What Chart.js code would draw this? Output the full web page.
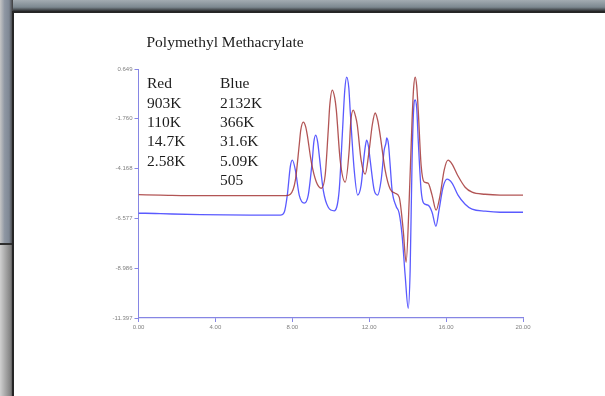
<!DOCTYPE html>
<html>
<head>
<meta charset="utf-8">
<script src="https://cdn.jsdelivr.net/npm/chart.js@4/dist/chart.umd.min.js"></script>
<style>
  html, body { margin: 0; padding: 0; }
  body { width: 605px; height: 396px; position: relative; overflow: hidden; background: #8a8f95; }
  #topStrip { position: absolute; left: 0; top: 0; width: 605px; height: 13px;
    background: linear-gradient(to bottom, #a3acb2 0, #7c8890 55%, #3a3d40 80%, #1e1e1e 100%); }
  #leftUpper { position: absolute; left: 0; top: 0; width: 13px; height: 243px;
    background: linear-gradient(to right, #c6c6c6 0, #8f97a3 35%, #7f8895 70%, #3c3c3c 100%); }
  #leftLine { position: absolute; left: 0; top: 243px; width: 13px; height: 2px; background: #2e2e2e; }
  #leftLower { position: absolute; left: 0; top: 245px; width: 13px; height: 151px;
    background: linear-gradient(to right, #d0d0d0 0, #a9a9a9 40%, #838383 80%, #4a4a4a 100%); }
  #panel { position: absolute; left: 12px; top: 11px; right: 0; bottom: 0; background: #fff;
    border-left: 2px solid #262626; border-top: 2px solid #262626; }
  #gpcChart { position: absolute; left: 0; top: 0; }
  .txt { position: absolute; font-family: "Liberation Serif", "Times New Roman", serif;
    font-size: 15.5px; line-height: 19.3px; color: #1c1c1c; white-space: nowrap; }
</style>
</head>
<body>
<div id="topStrip"></div>
<div id="leftUpper"></div>
<div id="leftLine"></div>
<div id="leftLower"></div>
<div id="panel"></div>
<canvas id="gpcChart" width="605" height="396"></canvas>
<div id="title" class="txt" style="left:146.5px; top:32.4px;"></div>
<div id="redCol" class="txt" style="left:147px; top:73.4px;"></div>
<div id="blueCol" class="txt" style="left:220px; top:73.4px;"></div>
<script>
// texts
const chartTitle = 'Polymethyl Methacrylate';
const redHeader = 'Red';
const blueHeader = 'Blue';
const redMw = ['903K', '110K', '14.7K', '2.58K'];
const blueMw = ['2132K', '366K', '31.6K', '5.09K', '505'];

// axes
const xTicks = [0, 4, 8, 12, 16, 20];
const xTickLabels = ['0.00', '4.00', '8.00', '12.00', '16.00', '20.00'];
const yTicks = [0.649, -1.760, -4.168, -6.577, -8.986, -11.397];
const yTickLabels = ['0.649', '-1.760', '-4.168', '-6.577', '-8.986', '-11.397'];

// red trace (time, signal)
const redTime = [0.00, 1.14, 3.22, 5.82, 7.64, 7.90, 8.16, 8.36, 8.44, 8.57, 8.70, 8.78, 8.99, 9.25, 9.51, 9.71, 9.87, 9.95,
  10.08, 10.21, 10.29, 10.49, 10.75, 10.96, 11.04, 11.17, 11.30, 11.38, 11.58, 11.79, 12.00, 12.16, 12.31, 12.44, 12.57, 12.83, 13.09,
  13.35, 13.56, 13.77, 13.92, 14.08, 14.23, 14.31, 14.39, 14.47, 14.55, 14.70, 14.86, 15.06, 15.27, 15.48, 15.69,
  15.90, 16.10, 16.31, 16.62, 16.99, 17.35, 18.03, 18.81, 20.00];
const redSignal = [-5.43, -5.45, -5.48, -5.48, -5.48, -5.41, -4.73, -3.03, -2.31, -1.92, -2.16, -2.55, -3.86, -4.82, -5.12, -4.49, -2.31, -1.10,
  -0.37, -0.76, -1.34, -3.76, -4.82, -3.27, -1.92, -1.34, -1.68, -2.06, -3.76, -4.44, -3.27, -2.06, -1.48, -1.82, -2.55, -4.24, -5.16,
  -5.36, -5.55, -7.15, -8.70, -5.70, -1.82, -0.27, 0.26, -0.17, -1.34, -4.00, -4.82, -4.87, -5.45, -6.18, -5.45,
  -4.24, -3.76, -3.95, -4.53, -5.07, -5.31, -5.41, -5.45, -5.45];

// blue trace (time, signal)
const blueTime = [0.00, 0.36, 1.14, 3.22, 5.82, 7.38, 7.58, 7.74, 7.90, 8.00, 8.16, 8.36, 8.62, 8.83, 9.04,
  9.12, 9.22, 9.32, 9.40, 9.61, 9.87, 10.18, 10.44, 10.60, 10.73, 10.83, 10.94, 11.01, 11.22, 11.40, 11.58, 11.74, 11.80, 11.87, 11.96, 12.05,
  12.26, 12.44, 12.62, 12.78, 12.87, 12.91, 13.00, 13.09, 13.19, 13.40, 13.56, 13.71, 13.87, 14.03, 14.13, 14.23,
  14.31, 14.39, 14.47, 14.55, 14.70, 14.83, 15.06, 15.27, 15.47, 15.64, 15.84, 16.05, 16.31, 16.62, 16.99, 17.35,
  18.03, 18.81, 20.00];
const blueSignal = [-6.33, -6.33, -6.35, -6.40, -6.42, -6.42, -6.28, -5.45, -4.05, -3.76, -4.24, -5.45, -5.84, -5.45, -3.76,
  -2.89, -2.55, -2.89, -3.52, -5.21, -6.04, -6.21, -5.21, -2.55, -0.37, 0.26, -0.27, -1.34, -4.24, -5.45, -4.97, -3.52, -3.08, -2.79, -3.08, -3.76,
  -5.21, -5.45, -4.73, -3.27, -2.94, -2.69, -2.98, -4.00, -5.21, -5.99, -6.33, -7.39, -9.33, -10.93, -9.09, -3.76,
  -1.34, -0.85, -1.24, -2.79, -5.21, -5.84, -5.94, -6.28, -6.96, -6.13, -5.07, -4.68, -4.87, -5.45, -5.89, -6.13,
  -6.23, -6.28, -6.28];

document.addEventListener('DOMContentLoaded', function () {
  document.getElementById('title').textContent = chartTitle;
  document.getElementById('redCol').innerHTML = [redHeader].concat(redMw).map(s => '<div>' + s + '</div>').join('');
  document.getElementById('blueCol').innerHTML = [blueHeader].concat(blueMw).map(s => '<div>' + s + '</div>').join('');

  const toPoints = (xs, ys) => xs.map((x, i) => ({ x: x, y: ys[i] }));
  const axisColor = '#8686e4';
  const tickFont = { family: 'Liberation Sans, Arial, sans-serif', size: 6 };

  const ctx = document.getElementById('gpcChart');
  new Chart(ctx, {
    type: 'line',
    data: {
      datasets: [
        { label: blueHeader, data: toPoints(blueTime, blueSignal), borderColor: 'rgba(72, 72, 255, 0.9)',
          borderWidth: 1.3, pointRadius: 0, cubicInterpolationMode: 'monotone', order: 2 },
        { label: redHeader, data: toPoints(redTime, redSignal), borderColor: 'rgba(165, 55, 55, 0.85)',
          borderWidth: 1.3, pointRadius: 0, cubicInterpolationMode: 'monotone', order: 1 }
      ]
    },
    options: {
      responsive: false,
      animation: false,
      events: [],
      layout: { padding: { left: 0, top: 69, right: 82, bottom: 0 } },
      plugins: { legend: { display: false }, tooltip: { enabled: false } },
      scales: {
        x: {
          type: 'linear', min: 0, max: 20,
          afterFit: s => { s.height = 78; },
          afterBuildTicks: s => { s.ticks = xTicks.map(v => ({ value: v })); },
          ticks: { callback: (v, i) => xTickLabels[i], font: tickFont, color: '#808080', padding: 2, maxRotation: 0 },
          grid: { drawOnChartArea: false, tickLength: 4, color: axisColor },
          border: { color: axisColor, width: 1.2 }
        },
        y: {
          type: 'linear', min: -11.397, max: 0.649,
          afterFit: s => { s.width = 138.5; },
          afterBuildTicks: s => { s.ticks = yTicks.map(v => ({ value: v })); },
          ticks: { callback: (v, i) => yTickLabels[i], font: tickFont, color: '#808080', padding: 2 },
          grid: { drawOnChartArea: false, tickLength: 4, color: axisColor },
          border: { color: axisColor, width: 1 }
        }
      }
    }
  });
});
</script>
</body>
</html>
